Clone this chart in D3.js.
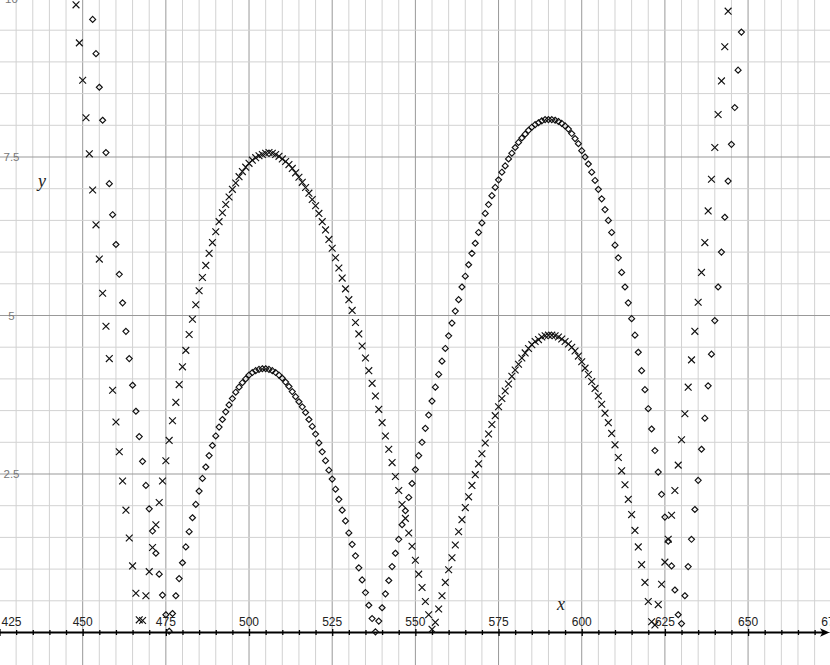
<!DOCTYPE html>
<html>
<head>
<meta charset="utf-8">
<script src="https://cdn.jsdelivr.net/npm/d3@7/dist/d3.min.js"></script>
<style>
  body { margin: 0; background: #fff; }
  svg { display: block; }
  .xlab { font: 12px "Liberation Sans", Arial, sans-serif; fill: #222; }
  .ylab { font: 11.5px "Liberation Sans", Arial, sans-serif; fill: #777; }
  .axname { font: italic 18px "Liberation Serif", "Times New Roman", serif; fill: #222; }
</style>
</head>
<body>
<svg id="chart" width="830" height="665"></svg>
<script>
// tick labels
const xTickLabels = [425, 450, 475, 500, 525, 550, 575, 600, 625, 650, 675];
const yTickLabels = [2.5, 5, 7.5, 10];

// series 1: crosses
const crossX = [
  448, 449, 450, 451, 452, 453, 454, 455, 456, 457, 458, 459, 460, 461, 462, 463, 464, 465, 466, 467,
  468, 469, 470, 471, 472, 473, 474, 475, 476, 477, 478, 479, 480, 481, 482, 483, 484, 485, 486, 487,
  488, 489, 490, 491, 492, 493, 494, 495, 496, 497, 498, 499, 500, 501, 502, 503, 504, 505, 506, 507,
  508, 509, 510, 511, 512, 513, 514, 515, 516, 517, 518, 519, 520, 521, 522, 523, 524, 525, 526, 527,
  528, 529, 530, 531, 532, 533, 534, 535, 536, 537, 538, 539, 540, 541, 542, 543, 544, 545, 546, 547,
  548, 549, 550, 551, 552, 553, 554, 555, 556, 557, 558, 559, 560, 561, 562, 563, 564, 565, 566, 567,
  568, 569, 570, 571, 572, 573, 574, 575, 576, 577, 578, 579, 580, 581, 582, 583, 584, 585, 586, 587,
  588, 589, 590, 591, 592, 593, 594, 595, 596, 597, 598, 599, 600, 601, 602, 603, 604, 605, 606, 607,
  608, 609, 610, 611, 612, 613, 614, 615, 616, 617, 618, 619, 620, 621, 622, 623, 624, 625, 626, 627,
  628, 629, 630, 631, 632, 633, 634, 635, 636, 637, 638, 639, 640, 641, 642, 643, 644
];
const crossY = [
  9.90, 9.30, 8.71, 8.12, 7.55, 6.98, 6.43, 5.89, 5.35, 4.83, 4.32, 3.82, 3.32, 2.85, 2.39, 1.93, 1.49, 1.05, 0.62, 0.20,
  0.19, 0.58, 0.96, 1.34, 1.70, 2.05, 2.39, 2.71, 3.03, 3.34, 3.63, 3.91, 4.19, 4.45, 4.70, 4.94, 5.17, 5.39, 5.60, 5.79,
  5.98, 6.15, 6.32, 6.48, 6.62, 6.75, 6.87, 6.99, 7.09, 7.19, 7.27, 7.34, 7.40, 7.45, 7.49, 7.52, 7.54, 7.56, 7.57, 7.56,
  7.54, 7.51, 7.47, 7.43, 7.38, 7.32, 7.25, 7.18, 7.10, 7.02, 6.93, 6.83, 6.73, 6.61, 6.48, 6.35, 6.20, 6.06, 5.91, 5.75,
  5.59, 5.42, 5.25, 5.08, 4.89, 4.71, 4.52, 4.33, 4.13, 3.93, 3.73, 3.52, 3.31, 3.10, 2.89, 2.68, 2.46, 2.24, 2.02, 1.80,
  1.57, 1.36, 1.14, 0.92, 0.71, 0.49, 0.28, 0.05, 0.16, 0.37, 0.58, 0.79, 0.99, 1.18, 1.38, 1.59, 1.78, 1.97, 2.14, 2.32,
  2.49, 2.66, 2.82, 2.99, 3.13, 3.28, 3.42, 3.56, 3.69, 3.81, 3.92, 4.04, 4.14, 4.23, 4.33, 4.41, 4.48, 4.54, 4.59, 4.62,
  4.66, 4.68, 4.69, 4.69, 4.68, 4.66, 4.63, 4.59, 4.55, 4.50, 4.44, 4.36, 4.27, 4.17, 4.07, 3.96, 3.85, 3.73, 3.60, 3.46,
  3.31, 3.14, 2.96, 2.76, 2.55, 2.33, 2.10, 1.86, 1.61, 1.35, 1.07, 0.79, 0.49, 0.17, 0.12, 0.44, 0.76, 1.11, 1.47, 1.85,
  2.24, 2.64, 3.04, 3.45, 3.87, 4.30, 4.75, 5.21, 5.68, 6.15, 6.65, 7.15, 7.65, 8.17, 8.70, 9.24, 9.80
];

// series 2: diamonds
const diamondX = [
  453, 454, 455, 456, 457, 458, 459, 460, 461, 462, 463, 464, 465, 466, 467, 468, 469, 470, 471, 472,
  473, 474, 475, 476, 477, 478, 479, 480, 481, 482, 483, 484, 485, 486, 487, 488, 489, 490, 491, 492,
  493, 494, 495, 496, 497, 498, 499, 500, 501, 502, 503, 504, 505, 506, 507, 508, 509, 510, 511, 512,
  513, 514, 515, 516, 517, 518, 519, 520, 521, 522, 523, 524, 525, 526, 527, 528, 529, 530, 531, 532,
  533, 534, 535, 536, 537, 538, 539, 540, 541, 542, 543, 544, 545, 546, 547, 548, 549, 550, 551, 552,
  553, 554, 555, 556, 557, 558, 559, 560, 561, 562, 563, 564, 565, 566, 567, 568, 569, 570, 571, 572,
  573, 574, 575, 576, 577, 578, 579, 580, 581, 582, 583, 584, 585, 586, 587, 588, 589, 590, 591, 592,
  593, 594, 595, 596, 597, 598, 599, 600, 601, 602, 603, 604, 605, 606, 607, 608, 609, 610, 611, 612,
  613, 614, 615, 616, 617, 618, 619, 620, 621, 622, 623, 624, 625, 626, 627, 628, 629, 630, 631, 632,
  633, 634, 635, 636, 637, 638, 639, 640, 641, 642, 643, 644, 645, 646, 647, 648
];
const diamondY = [
  9.67, 9.13, 8.60, 8.08, 7.57, 7.08, 6.59, 6.12, 5.65, 5.20, 4.75, 4.32, 3.90, 3.49, 3.09, 2.70, 2.32, 1.95, 1.60, 1.25,
  0.92, 0.59, 0.28, 0.02, 0.30, 0.58, 0.85, 1.10, 1.35, 1.59, 1.81, 2.02, 2.23, 2.43, 2.61, 2.79, 2.95, 3.10, 3.24, 3.36,
  3.48, 3.59, 3.69, 3.79, 3.87, 3.94, 4.00, 4.06, 4.10, 4.13, 4.15, 4.16, 4.16, 4.15, 4.13, 4.10, 4.06, 4.01, 3.95, 3.88,
  3.80, 3.72, 3.64, 3.56, 3.47, 3.36, 3.25, 3.13, 2.99, 2.85, 2.71, 2.56, 2.42, 2.26, 2.10, 1.93, 1.76, 1.57, 1.39, 1.21,
  1.02, 0.83, 0.63, 0.43, 0.22, 0.01, 0.18, 0.39, 0.61, 0.82, 1.04, 1.25, 1.47, 1.70, 1.92, 2.13, 2.35, 2.57, 2.79, 3.00,
  3.22, 3.43, 3.65, 3.87, 4.07, 4.28, 4.48, 4.68, 4.88, 5.07, 5.25, 5.45, 5.62, 5.80, 5.98, 6.14, 6.31, 6.46, 6.61, 6.75,
  6.89, 7.02, 7.14, 7.26, 7.36, 7.47, 7.56, 7.65, 7.73, 7.80, 7.86, 7.92, 7.97, 8.01, 8.04, 8.07, 8.09, 8.09, 8.09, 8.08,
  8.06, 8.03, 7.99, 7.94, 7.87, 7.79, 7.71, 7.60, 7.50, 7.39, 7.26, 7.13, 6.99, 6.84, 6.67, 6.50, 6.31, 6.11, 5.91, 5.68,
  5.45, 5.20, 4.95, 4.69, 4.42, 4.13, 3.83, 3.53, 3.21, 2.87, 2.53, 2.18, 1.82, 1.44, 1.05, 0.67, 0.28, 0.14, 0.58, 1.04,
  1.47, 1.94, 2.40, 2.89, 3.38, 3.89, 4.39, 4.92, 5.45, 6.00, 6.55, 7.12, 7.70, 8.28, 8.87, 9.47
];

const W = 830, H = 665;
const svg = d3.select('#chart');

const x = d3.scaleLinear().domain([425, 675]).range([-0.5, 831.25]);
const y = d3.scaleLinear().domain([0, 10]).range([632.5, -1.5]);

// grid
const minorX = d3.range(425, 676, 5);
const minorY = d3.range(0, 10.01, 0.5);
const grid = svg.append('g');
grid.selectAll('line.vx').data(minorX).join('line')
  .attr('x1', d => x(d)).attr('x2', d => x(d))
  .attr('y1', 0).attr('y2', H)
  .attr('stroke', d => d % 25 === 0 ? '#999' : '#d2d2d2')
  .attr('stroke-width', 1);
grid.selectAll('line.hy').data(minorY).join('line')
  .attr('x1', 0).attr('x2', W)
  .attr('y1', d => y(d)).attr('y2', d => y(d))
  .attr('stroke', d => d % 2.5 === 0 ? '#999' : '#d2d2d2')
  .attr('stroke-width', 1);

// x axis at y = 0
const axis = d3.axisBottom(x).tickValues(minorX.filter(d => d < 672)).tickSize(0).tickFormat('');
const gx = svg.append('g').attr('transform', `translate(0,${y(0)})`).call(axis);
gx.select('.domain').remove();
gx.selectAll('.tick line')
  .attr('y1', d => d % 25 === 0 ? -3.5 : -2.5)
  .attr('y2', d => d % 25 === 0 ? 3.5 : 2.5)
  .attr('stroke', '#000').attr('stroke-width', 1.3);
svg.append('line')
  .attr('x1', 0).attr('x2', 824)
  .attr('y1', y(0)).attr('y2', y(0))
  .attr('stroke', '#000').attr('stroke-width', 1.8);
svg.append('path')
  .attr('d', `M${W - 0.5},${y(0)} L${W - 10},${y(0) - 4.2} L${W - 7.5},${y(0)} L${W - 10},${y(0) + 4.2} Z`)
  .attr('fill', '#000');

// tick labels
svg.selectAll('text.xlab').data(xTickLabels).join('text')
  .attr('class', 'xlab')
  .attr('x', d => d === 425 ? 1.5 : x(d))
  .attr('y', 626)
  .attr('text-anchor', d => d === 425 ? 'start' : 'middle')
  .text(d => d);
svg.selectAll('text.ylab').data(yTickLabels).join('text')
  .attr('class', 'ylab')
  .attr('x', 11.5)
  .attr('y', d => y(d) + 4)
  .attr('text-anchor', 'middle')
  .text(d => d);

svg.append('text').attr('class', 'axname').attr('x', 38).attr('y', 187).text('y');
svg.append('text').attr('class', 'axname').attr('x', 557).attr('y', 610).text('x');

// markers
const crosses = crossX.map((v, i) => [v, crossY[i]]);
const diamonds = diamondX.map((v, i) => [v, diamondY[i]]);
const c = 3.4;
svg.append('g').selectAll('path').data(crosses).join('path')
  .attr('d', d => {
    const px = x(d[0]), py = y(d[1]);
    return `M${px - c},${py - c}L${px + c},${py + c}M${px - c},${py + c}L${px + c},${py - c}`;
  })
  .attr('stroke', '#111').attr('stroke-width', 1.15).attr('fill', 'none');
const r = 3;
svg.append('g').selectAll('path').data(diamonds).join('path')
  .attr('d', d => {
    const px = x(d[0]), py = y(d[1]);
    return `M${px},${py - r}L${px + r},${py}L${px},${py + r}L${px - r},${py}Z`;
  })
  .attr('stroke', '#111').attr('stroke-width', 1.15).attr('fill', 'none');
</script>
</body>
</html>
